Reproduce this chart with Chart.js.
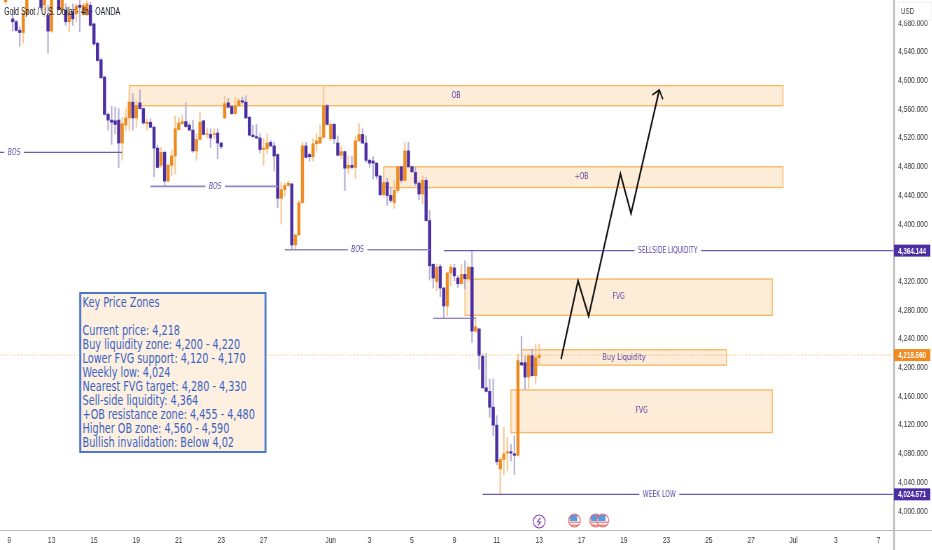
<!DOCTYPE html>
<html>
<head>
<meta charset="utf-8">
<title>Gold Spot / U.S. Dollar</title>
<script src="https://cdn.jsdelivr.net/npm/chart.js@4"></script>
<style>
  html, body { margin: 0; padding: 0; background: #fff; overflow: hidden; }
  /* the reference is squeezed sideways, so the whole sheet is drawn wide and scaled */
  #sheet { position: absolute; left: 0; top: 0; width: 1332px; height: 550px; transform-origin: 0 0; transform: scaleX(0.7); filter: blur(0.35px); }
  #keyBox {
    position: absolute; left: 113px; top: 292px; width: 268px; height: 161px; box-sizing: border-box;
    background: #fdf0e0; border: 2px solid #4a78cf; border-left-width: 3px; border-right-width: 3px;
    padding: 1px 0 0 2px; color: #3a62c4; font: 13.8px/14px "DejaVu Sans", sans-serif; white-space: pre-line;
  }
</style>
</head>
<body>
<div id="sheet">
  <canvas id="goldChart" width="1332" height="550"></canvas>
  <div id="keyBox"></div>
</div>
<script>
'use strict';

const keyLines = [
  'Key Price Zones', '',
  'Current price: 4,218',
  'Buy liquidity zone: 4,200 - 4,220',
  'Lower FVG support: 4,120 - 4,170',
  'Weekly low: 4,024',
  'Nearest FVG target: 4,280 - 4,330',
  'Sell-side liquidity: 4,364',
  '+OB resistance zone: 4,455 - 4,480',
  'Higher OB zone: 4,560 - 4,590',
  'Bullish invalidation: Below 4,02'
];

// 4h candles, one entry per bar
const opens = [
  4722,4711,4732,4687,4683,4671,4668,4694,4725,4745,
  4725,4725,4706,4692,4670,4722,4730,4700,4699,4683,
  4697,4694,4706,4693,4693,4706,4680,4653,4630,4606,
  4554,4546,4545,4546,4514,4539,4549,4571,4549,4570,
  4562,4541,4543,4536,4507,4483,4501,4461,4483,4496,
  4533,4541,4544,4539,4532,4503,4519,4545,4526,4526,
  4526,4528,4514,4549,4570,4565,4555,4566,4573,4571,
  4550,4525,4523,4521,4505,4506,4515,4510,4498,4437,
  4449,4455,4457,4372,4386,4431,4510,4498,4495,4513,
  4514,4522,4566,4520,4540,4514,4497,4502,4479,4483,
  4480,4517,4526,4514,4490,4489,4486,4468,4442,4459,
  4441,4431,4448,4481,4462,4503,4481,4473,4458,4443,
  4462,4406,4345,4321,4342,4312,4287,4333,4340,4326,
  4318,4331,4325,4341,4252,4255,4217,4173,4168,4146,
  4121,4060,4073,4082,4084,4081,4079,4208,4208,4188,
  4218,4190,4215
];
const closes = [
  4730,4722,4718,4683,4671,4668,4694,4725,4740,4730,
  4738,4703,4720,4670,4722,4735,4700,4720,4683,4694,
  4687,4705,4703,4706,4708,4678,4652,4629,4605,4554,
  4546,4543,4540,4514,4541,4549,4571,4549,4566,4562,
  4542,4543,4536,4507,4480,4501,4461,4483,4496,4534,
  4542,4544,4537,4532,4503,4519,4543,4526,4527,4521,
  4527,4514,4509,4569,4564,4555,4566,4573,4571,4549,
  4525,4523,4521,4505,4507,4514,4510,4496,4437,4449,
  4455,4458,4372,4386,4431,4510,4494,4495,4513,4517,
  4522,4566,4540,4540,4520,4497,4502,4479,4483,4480,
  4517,4526,4514,4490,4486,4486,4468,4442,4459,4441,
  4434,4448,4481,4462,4503,4481,4474,4458,4443,4462,
  4406,4343,4326,4341,4312,4287,4333,4341,4329,4318,
  4331,4325,4341,4252,4258,4218,4173,4168,4146,4121,
  4070,4073,4081,4084,4082,4079,4211,4205,4188,4218,
  4190,4215,4218.56
];
const highs = [
  4735,4728,4738,4699,4685,4676,4699,4735,4745,4750,
  4745,4735,4728,4706,4730,4740,4738,4728,4708,4705,
  4708,4708,4715,4709,4712,4710,4681,4655,4632,4607,
  4556,4565,4564,4562,4550,4562,4587,4583,4573,4588,
  4563,4548,4548,4538,4511,4508,4503,4485,4504,4552,
  4550,4553,4570,4542,4546,4527,4557,4546,4535,4534,
  4534,4534,4515,4579,4576,4566,4577,4576,4578,4580,
  4551,4539,4540,4527,4520,4527,4518,4515,4499,4459,
  4458,4461,4458,4387,4434,4515,4515,4500,4520,4527,
  4539,4594,4568,4542,4542,4524,4510,4503,4496,4496,
  4524,4541,4534,4524,4492,4495,4487,4469,4478,4465,
  4452,4462,4482,4482,4515,4515,4482,4480,4461,4468,
  4466,4420,4346,4345,4345,4313,4334,4345,4345,4329,
  4345,4350,4343,4363,4271,4256,4220,4221,4185,4185,
  4134,4076,4118,4104,4094,4106,4220,4245,4217,4220,
  4227,4234,4234
];
const lows = [
  4718,4708,4715,4670,4670,4649,4653,4692,4720,4722,
  4720,4699,4690,4639,4668,4716,4699,4695,4678,4669,
  4678,4683,4669,4692,4691,4677,4650,4628,4604,4553,
  4532,4512,4527,4480,4490,4531,4532,4532,4536,4561,
  4540,4532,4535,4467,4479,4480,4455,4460,4469,4471,
  4532,4540,4536,4531,4501,4490,4518,4525,4521,4508,
  4520,4492,4506,4548,4563,4554,4554,4565,4569,4548,
  4524,4522,4520,4500,4483,4499,4509,4475,4424,4401,
  4440,4454,4366,4366,4385,4430,4493,4489,4489,4503,
  4513,4521,4539,4518,4513,4496,4492,4448,4471,4478,
  4464,4516,4513,4487,4480,4464,4464,4441,4441,4427,
  4431,4423,4445,4459,4461,4480,4473,4455,4435,4429,
  4405,4323,4312,4308,4300,4270,4273,4315,4322,4313,
  4317,4311,4322,4236,4250,4199,4172,4167,4132,4106,
  4066,4024,4052,4057,4071,4052,4078,4204,4171,4171,
  4189,4178,4205
];

const priceTicks = [4000,4040,4080,4120,4160,4200,4240,4280,4320,4400,4440,4480,4520,4560,4600,4640,4680];
const dateTickBars = [2,14,26,38,50,62,74,93,104,116,128,140,152,164,176,188,200,212,224,236,248];
const dateTickLabels = ['9','13','15','19','21','23','27','Jun','3','5','9','11','13','17','19','23','25','27','Jul','3','7'];

// orange supply / demand boxes
const zoneNames = ['OB','+OB','FVG','FVG','Buy Liquidity'];
const zoneTops = [4594,4481,4324.5,4170,4226];
const zoneBottoms = [4566,4452,4274,4110.6,4204.6];
const zoneStarts = [36,108,131,144,147];
const zoneEnds = [221,221,218,218,205];
const zoneNameBars = [128.5,164,174.5,181,176];

// horizontal structure levels
const levelPrices = [4501,4453.7,4365.4,4270,4364.144,4024.571];
const levelStarts = [-1,42,80,122,125,136];
const levelEnds = [34,78,121,134,253,253];
const levelTexts = ['BOS','BOS','BOS','','SELLSIDE LIQUIDITY','WEEK LOW'];
const levelTextBars = [3.4,60.3,100.6,0,188.4,186];

const currentPrice = 4218.56;

// projected path and its arrow head
const pathBars = [158.2,163,166,175,178,186];
const pathPrices = [4213,4322,4273,4471,4416,4588];
const headBars = [184,186,187];
const headPrices = [4581,4588,4575];

const eventBars = [152,162,168,170];
const eventKinds = ['bolt','flag','flag','flag'];

const purple = '#4b2ea3', orange = '#ef8a1f';
const purpleWick = '#b5afd6', orangeWick = '#f7c892';
const labelPurple = '#5b45a8';

document.getElementById('keyBox').textContent = keyLines.join('\n');

function isUp(i) { return closes[i] >= opens[i]; }
function money(v) { return v.toLocaleString('en-US', { minimumFractionDigits: 3, maximumFractionDigits: 3 }); }

const wicks = highs.map((h, i) => ({ x: i, y: [lows[i], h] }));
const bodies = opens.map((o, i) => ({ x: i, y: [Math.min(o, closes[i]), Math.max(o, closes[i])] }));

const levelSets = levelPrices.map((p, i) => ({
  type: 'line',
  data: [{ x: levelStarts[i], y: p }, { x: levelEnds[i], y: p }],
  borderColor: (i === 1 || i === 2) ? '#9089c0' : '#6a5cb2',
  borderWidth: (i === 1 || i === 2) ? 1.6 : 1.1,
  pointRadius: 0,
  order: 1
}));

const zonesPlugin = {
  id: 'zones',
  beforeDatasetsDraw(chart) {
    const { ctx, scales: { x, y } } = chart;
    ctx.save();
    zoneNames.forEach((n, i) => {
      const l = x.getPixelForValue(zoneStarts[i]), r = x.getPixelForValue(zoneEnds[i]);
      const t = y.getPixelForValue(zoneTops[i]), b = y.getPixelForValue(zoneBottoms[i]);
      ctx.fillStyle = '#fdecd7';
      ctx.fillRect(l, t, r - l, b - t);
      ctx.strokeStyle = '#f7b968';
      ctx.lineWidth = 1.4;
      ctx.strokeRect(l, t, r - l, b - t);
    });
    ctx.restore();
  }
};

function drawBolt(ctx, cx, cy) {
  ctx.strokeStyle = '#8b3fb8';
  ctx.lineWidth = 1.2;
  ctx.fillStyle = '#fff';
  ctx.beginPath();
  ctx.ellipse(cx, cy, 8.5, 6.5, 0, 0, Math.PI * 2);
  ctx.fill();
  ctx.stroke();
  ctx.beginPath();
  ctx.moveTo(cx + 2, cy - 4);
  ctx.lineTo(cx - 2.5, cy + 0.5);
  ctx.lineTo(cx + 2, cy + 0.5);
  ctx.lineTo(cx - 2, cy + 4);
  ctx.stroke();
}

function drawFlag(ctx, cx, cy) {
  ctx.save();
  ctx.beginPath();
  ctx.ellipse(cx, cy, 8.5, 6.5, 0, 0, Math.PI * 2);
  ctx.fillStyle = '#fff';
  ctx.fill();
  ctx.clip();
  ctx.fillStyle = '#f08d8d';
  ctx.fillRect(cx - 9, cy + 1, 18, 1.5);
  ctx.fillRect(cx - 9, cy + 4, 18, 1.5);
  ctx.fillStyle = '#5a9be0';
  ctx.fillRect(cx - 7, cy - 6, 11, 6.5);
  ctx.restore();
  ctx.strokeStyle = '#e86a6a';
  ctx.lineWidth = 1.2;
  ctx.beginPath();
  ctx.ellipse(cx, cy, 8.5, 6.5, 0, 0, Math.PI * 2);
  ctx.stroke();
}

const notesPlugin = {
  id: 'notes',
  afterDatasetsDraw(chart) {
    const { ctx, scales: { x, y } } = chart;
    ctx.save();
    ctx.textAlign = 'center';
    ctx.textBaseline = 'middle';

    // level captions sit in a white gap cut out of the line
    levelTexts.forEach((t, i) => {
      if (!t) return;
      const cx = x.getPixelForValue(levelTextBars[i]), cy = y.getPixelForValue(levelPrices[i]);
      ctx.font = (t === 'BOS' ? 'italic ' : '') + '8.5px "DejaVu Sans"';
      ctx.fillStyle = '#fff';
      ctx.fillRect(cx - ctx.measureText(t).width / 2 - 5, cy - 3, ctx.measureText(t).width + 10, 6);
      ctx.fillStyle = labelPurple;
      ctx.fillText(t, cx, cy);
    });

    zoneNames.forEach((n, i) => {
      ctx.font = (n === 'Buy Liquidity' ? '9.5px' : '8.5px') + ' "DejaVu Sans"';
      ctx.fillStyle = labelPurple;
      ctx.fillText(n, x.getPixelForValue(zoneNameBars[i]), (y.getPixelForValue(zoneTops[i]) + y.getPixelForValue(zoneBottoms[i])) / 2);
    });

    eventBars.forEach((b, i) => {
      const cx = x.getPixelForValue(b);
      if (eventKinds[i] === 'bolt') drawBolt(ctx, cx, 521.5);
      else drawFlag(ctx, cx, 520.5);
    });

    ctx.textAlign = 'left';
    ctx.font = '10px "Liberation Sans"';
    ctx.fillStyle = '#131722';
    ctx.fillText('Gold Spot / U.S. Dollar · 4h · OANDA', 6, 12);
    ctx.restore();
  },
  afterDraw(chart) {
    const { ctx, chartArea, scales: { y } } = chart;
    const r = chartArea.right;
    ctx.save();

    // axis frame
    ctx.fillStyle = '#b9b9b9';
    ctx.fillRect(chartArea.left, chartArea.bottom, 1332, 1);
    ctx.fillRect(r, 0, 2.4, 550);

    // USD box covers the clipped top tick
    ctx.fillStyle = '#fff';
    ctx.fillRect(r + 3, 0, 1332 - r - 3, 20);
    ctx.strokeStyle = '#eeeeee';
    ctx.strokeRect(r + 7, 2, 47, 18);
    ctx.fillStyle = '#333';
    ctx.font = '9px "Liberation Sans"';
    ctx.textAlign = 'left';
    ctx.textBaseline = 'middle';
    ctx.fillText('USD', r + 11, 12);

    // price tags
    [[levelPrices[4], purple], [currentPrice, orange], [levelPrices[5], purple]].forEach(([p, c]) => {
      const cy = y.getPixelForValue(p);
      ctx.fillStyle = c;
      ctx.fillRect(r + 1, cy - 6, 52, 12);
      ctx.fillStyle = '#fff';
      ctx.font = 'bold 9px "Liberation Sans"';
      ctx.fillText(money(p), r + 7, cy + 0.5);
    });
    ctx.restore();
  }
};

new Chart(document.getElementById('goldChart').getContext('2d'), {
  type: 'bar',
  data: {
    datasets: [
      {
        data: bodies,
        grouped: false,
        barThickness: 3.8,
        backgroundColor: opens.map((o, i) => isUp(i) ? orange : purple),
        order: 2
      },
      {
        data: wicks,
        grouped: false,
        barThickness: 1.5,
        backgroundColor: opens.map((o, i) => isUp(i) ? orangeWick : purpleWick),
        order: 3
      },
      ...levelSets,
      {
        type: 'line',
        data: [{ x: -1, y: currentPrice }, { x: 253, y: currentPrice }],
        borderColor: '#f2b25c',
        borderWidth: 1,
        borderDash: [1.5, 2.5],
        pointRadius: 0,
        order: 1
      },
      {
        type: 'line',
        data: pathBars.map((b, i) => ({ x: b, y: pathPrices[i] })),
        borderColor: '#111',
        borderWidth: 2.2,
        pointRadius: 0,
        order: 0
      },
      {
        type: 'line',
        data: headBars.map((b, i) => ({ x: b, y: headPrices[i] })),
        borderColor: '#111',
        borderWidth: 1.8,
        pointRadius: 0,
        order: 0
      }
    ]
  },
  options: {
    responsive: false,
    animation: false,
    layout: { padding: 0 },
    plugins: { legend: { display: false }, tooltip: { enabled: false } },
    scales: {
      x: {
        type: 'linear',
        offset: false,
        min: -0.586,
        max: 252.2,
        afterBuildTicks(scale) { scale.ticks = dateTickBars.map(v => ({ value: v })); },
        afterFit(scale) { scale.height = 20; scale.paddingLeft = 0; scale.paddingRight = 0; },
        grid: { display: false, drawTicks: false },
        border: { display: false },
        ticks: {
          autoSkip: false,
          maxRotation: 0,
          padding: 5,
          color: '#333',
          font: { family: '"Liberation Sans"', size: 9.5 },
          callback: (value, index) => dateTickLabels[index]
        }
      },
      y: {
        position: 'right',
        min: 3974.9,
        max: 4713.3,
        afterBuildTicks(scale) { scale.ticks = priceTicks.map(v => ({ value: v })); },
        afterFit(scale) { scale.width = 56; scale.paddingTop = 0; scale.paddingBottom = 0; },
        grid: { display: false, drawTicks: false },
        border: { display: false },
        ticks: {
          autoSkip: false,
          padding: 7,
          labelOffset: -1,
          color: '#333',
          font: { family: '"Liberation Sans"', size: 9.5 },
          callback: value => money(value)
        }
      }
    }
  },
  plugins: [zonesPlugin, notesPlugin]
});
</script>
</body>
</html>
